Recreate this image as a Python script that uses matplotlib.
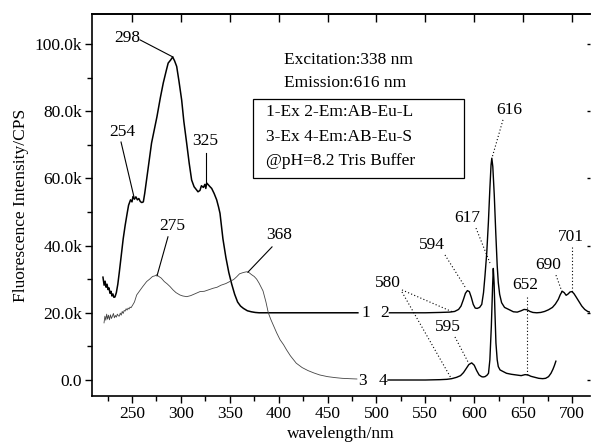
import matplotlib
matplotlib.use("Agg")
from matplotlib import pyplot as plt
from matplotlib.ticker import MultipleLocator, FuncFormatter
from matplotlib.patches import Rectangle

plt.rcParams['font.family'] = ['Liberation Serif', 'DejaVu Serif']

# intensities in thousands of CPS
ex_l_nm = [220.3, 221.5, 222.5, 223.5, 224.5, 225.5, 226.5, 227.5, 228.5, 229.5, 230.5, 231.5, 232.6,
           234, 235.5, 237, 239, 241, 243, 245, 246.5, 248.5, 250, 251, 252.5, 254, 255.5, 257, 258.5,
           260, 261.6, 263, 266.7, 270, 275.5, 279, 282, 285, 287, 289.5, 291.6, 293.5, 295.7, 298,
           300.8, 303, 305.9, 308.5, 311, 313.5, 316.2, 317.5, 319.5, 321, 323, 324.5, 325.5, 326.4,
           328, 329.5, 331.5, 334, 336.6, 338.5, 340, 343, 346, 349, 352, 355, 358, 361, 364, 368, 372,
           376, 380, 390, 400, 410, 420, 430, 440, 450, 460, 470, 481]
ex_l_val = [30.6, 28.2, 29.4, 27.6, 28.5, 26.9, 27.4, 25.8, 26.4, 25.0, 25.6, 24.6, 24.7,
            26.0, 28.5, 32.0, 37.0, 42.0, 46.0, 49.5, 52.0, 53.6, 53.0, 54.6, 53.8, 54.5, 53.6, 54.0, 53.1,
            52.8, 53.0, 55.5, 63.4, 70.5, 78.3, 84.0, 88.4, 92.0, 94.3, 95.2, 96.1, 95.0, 93.3, 89.0,
            83.3, 77.0, 70.5, 64.5, 59.5, 57.5, 56.5, 56.0, 56.4, 57.8, 57.3, 58.2, 57.0, 58.6,
            58.1, 57.6, 57.0, 55.5, 53.6, 51.5, 49.6, 42.0, 36.5, 32.0, 28.5, 25.5, 23.2, 22.0, 21.3, 20.6, 20.3,
            20.1, 20.0, 20.0, 20.0, 20.0, 20.0, 20.0, 20.0, 20.0, 20.0, 20.0, 20.0]

ex_s_nm = [221.4, 222.3, 223.2, 224.1, 225, 226, 227, 228, 229, 230, 231, 232, 233, 234, 235, 236,
           237, 238, 239, 240, 241, 242, 243, 244, 245, 246, 247, 248, 249, 250.5, 252.5, 254.8, 258,
           261, 265, 268, 271, 273.5, 275.2, 277, 280, 283, 286, 288.9, 292, 295, 299, 302, 306, 310,
           314, 319.5, 324, 328, 333, 337, 341, 346, 350, 354, 357, 360, 363, 365.5, 367.3, 369.5,
           372, 375, 377.5, 380, 384, 387, 389.4, 392, 395, 398, 401.4, 405, 408, 412, 418, 424, 430,
           436, 442, 450, 458, 465, 472, 480]
ex_s_val = [17.0, 19.0, 17.8, 19.6, 18.1, 19.3, 17.9, 19.4, 18.3, 19.0, 19.8, 18.5, 19.2, 18.7, 19.6, 19.1,
            19.0, 19.9, 19.3, 20.4, 19.8, 20.7, 20.5, 21.2, 20.8, 21.4, 21.1, 21.7, 21.5, 22.2, 23.2, 25.3, 26.6,
            27.8, 29.3, 30.0, 30.8, 31.0, 31.3, 30.9, 30.3, 29.3, 28.6, 27.8, 26.8, 26.0, 25.3, 25.0, 24.8, 25.1,
            25.6, 26.3, 26.4, 26.8, 27.3, 27.6, 28.2, 28.7, 29.3, 29.9, 30.7, 31.6, 31.9, 32.1, 32.2, 32.0,
            31.4, 30.8, 30.0, 28.8, 26.5, 23.2, 20.0, 18.0, 16.0, 14.0, 12.0, 10.5, 9.0, 7.2, 5.0, 3.7, 2.8,
            2.1, 1.5, 1.0, 0.7, 0.5, 0.4, 0.3]

em_l_nm = [513.3, 530, 550, 565, 575, 580, 584, 586.5, 589, 591, 593, 595, 597, 599, 601, 603, 605.5,
           607.7, 609.5, 611, 612.8, 614.5, 616, 617.2, 618, 619, 620.5, 622, 623.5, 624.6, 626, 628, 631,
           636.6, 640, 644, 648, 651, 654, 657, 660, 664, 668, 672, 676, 680, 683, 686, 688, 690, 692,
           694, 696, 698, 700, 702, 704, 707, 710, 713, 716, 718.4]
em_l_val = [20.0, 20.0, 20.0, 20.1, 20.2, 20.4, 21.0, 22.0, 24.0, 25.8, 26.6, 26.3, 24.6, 22.5, 21.4, 21.3, 21.6,
            22.5, 26.0, 31.0, 37.8, 47.0, 57.0, 64.0, 66.0, 63.5, 55.0, 44.0, 34.0, 29.0, 25.5, 23.0, 21.6,
            20.8, 20.3, 20.2, 20.6, 21.0, 20.9, 20.4, 20.1, 20.0, 20.1, 20.4, 20.9, 21.6, 22.6, 24.0, 25.4, 26.4, 26.0,
            25.2, 25.6, 26.2, 26.3, 25.7, 24.8, 23.4, 22.0, 21.0, 20.4, 20.2]

em_s_nm = [511.8, 530, 550, 565, 572, 577, 582, 586, 589, 592, 594.5, 597.4, 600, 602.5, 605, 607.5,
           609, 611, 613, 614.6, 616, 617.5, 618.8, 619.5, 620.3, 621.2, 622.2, 623.5, 624.6, 626.4, 629,
           633, 638, 643, 648, 652, 655, 658, 662, 666, 670, 673, 676, 678.5, 680.5, 682, 683.5]
em_s_val = [0.0, 0.0, 0.0, 0.1, 0.2, 0.4, 0.8, 1.3, 2.2, 3.5, 4.6, 5.1, 4.4, 2.8, 1.5, 1.0,
            0.9, 1.0, 1.4, 2.0, 6.0, 16.0, 28.0, 33.2, 29.0, 20.0, 11.0, 6.0, 4.0, 3.0, 2.6,
            2.0, 1.7, 1.5, 1.3, 1.6, 1.5, 1.1, 0.8, 0.5, 0.4, 0.5, 1.0, 2.0, 3.2, 4.3, 5.6]

y_ticks = [0, 20, 40, 60, 80, 100]
x_ticks = [250, 300, 350, 400, 450, 500, 550, 600, 650, 700]

# peak labels: (text, text pos, line start, line end, dotted?)
peak_notes = [
    ("298", (244.9, 101.8), (258.2, 101.2), (291.9, 96.1), False),
    ("254", (239.8, 73.8), (238.8, 70.8), (252.0, 54.5), False),
    ("325", (324.7, 71.1), (325.7, 67.6), (325.7, 58.6), False),
    ("275", (290.9, 45.8), (286.8, 42.6), (275.6, 31.0), False),
    ("368", (400.3, 43.2), (393.2, 39.6), (368.6, 32.1), False),
    ("616", (635.6, 80.4), (629.4, 77.4), (618.2, 66.1), True),
    ("617", (592.6, 48.2), (601.8, 45.2), (616.1, 34.8), True),
    ("594", (556.8, 40.2), (570.1, 37.2), (590.6, 27.7), True),
    ("580", (511.8, 28.9), (526.1, 26.8), (578.3, 20.2), True),
    ("595", (573.2, 15.8), (580.3, 12.8), (593.6, 5.4), True),
    ("652", (651.9, 28.3), (654.3, 24.7), (654.3, 0.9), True),
    ("690", (675.4, 34.2), (683.6, 31.2), (689.8, 26.2), True),
    ("701", (699.0, 42.6), (700.0, 39.6), (700.0, 26.2), True),
]
extra_line = ((526.1, 26.2), (576.2, 0.6))

curve_tags = [("1", 489.3, 19.9), ("2", 508.7, 19.9), ("3", 486.2, -0.3), ("4", 506.7, -0.3)]

fig = plt.figure(figsize=(5.91, 4.48), dpi=100)
ax = fig.add_axes([92 / 591, 52 / 448, 498 / 591, 382 / 448])

ax.plot(ex_l_nm, ex_l_val, color='black', lw=1.1)
ax.plot(ex_s_nm, ex_s_val, color='#444444', lw=0.6)
ax.plot(em_l_nm, em_l_val, color='black', lw=1.0)
ax.plot(em_s_nm, em_s_val, color='black', lw=1.0)

fs = 12.5
for txt, tpos, p0, p1, dotted in peak_notes:
    ax.text(tpos[0], tpos[1], txt, fontsize=fs, ha='center', va='center')
    ax.plot([p0[0], p1[0]], [p0[1], p1[1]], color='black', lw=0.8,
            ls=(0, (1, 2)) if dotted else '-')
ax.plot([extra_line[0][0], extra_line[1][0]], [extra_line[0][1], extra_line[1][1]],
        color='black', lw=0.8, ls=(0, (1, 2)))

for txt, x, y in curve_tags:
    ax.text(x, y, txt, fontsize=fs, ha='center', va='center')

ax.text(405.5, 95.2, "Excitation:338 nm", fontsize=fs, ha='left', va='center')
ax.text(405.5, 88.4, "Emission:616 nm", fontsize=fs, ha='left', va='center')
ax.add_patch(Rectangle((373.7, 60.1), 589.5 - 373.7, 83.6 - 60.1, fill=False, ec='black', lw=0.9))
ax.text(387, 79.8, "1-Ex 2-Em:AB-Eu-L", fontsize=fs, ha='left', va='center')
ax.text(387, 72.3, "3-Ex 4-Em:AB-Eu-S", fontsize=fs, ha='left', va='center')
ax.text(387, 65.2, "@pH=8.2 Tris Buffer", fontsize=fs, ha='left', va='center')

ax.set_xlim(209.1, 718.4)
ax.set_ylim(-4.76, 108.9)
ax.set_xticks(x_ticks)
ax.set_yticks(y_ticks)
ax.xaxis.set_minor_locator(MultipleLocator(25))
ax.yaxis.set_minor_locator(MultipleLocator(10))
ax.yaxis.set_major_formatter(FuncFormatter(lambda v, p: "0.0" if v == 0 else "%.1fk" % v))
ax.tick_params(which='both', direction='out', labelsize=fs, width=1.0, pad=2)
ax.tick_params(which='major', length=5)
ax.tick_params(which='minor', length=3.5)

for s in ['left', 'bottom', 'top']:
    ax.spines[s].set_linewidth(1.2)
ax.spines['right'].set_visible(False)

top = ax.secondary_xaxis('top')
top.set_xticks(x_ticks)
top.tick_params(direction='in', length=6, width=1.0, labeltop=False)
top.spines['top'].set_linewidth(1.2)

right = ax.secondary_yaxis('right')
right.set_yticks(y_ticks)
right.tick_params(direction='in', length=2.5, width=1.0, labelright=False)
right.spines['right'].set_visible(False)

ax.set_xlabel("wavelength/nm", fontsize=fs, labelpad=3)
ax.set_ylabel("Fluorescence Intensity/CPS", fontsize=fs, labelpad=4)

fig.savefig("out.png", dpi=100)
